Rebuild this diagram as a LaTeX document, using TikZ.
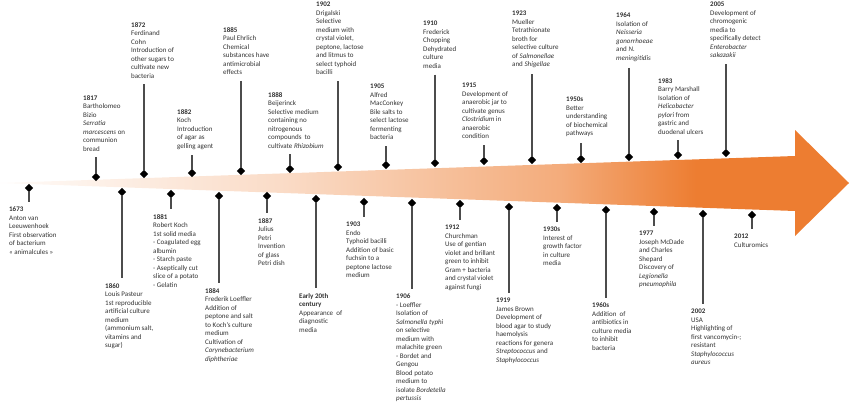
\documentclass[tikz,border=0pt]{standalone}
\usepackage{fontspec}
\setmainfont{Carlito}
\usepackage{tikz}
\usetikzlibrary{shapes.geometric}
\definecolor{arroworange}{RGB}{237,125,49}
\definecolor{evgray}{RGB}{50,50,50}
\pgfdeclarehorizontalshading{arrowfade}{100bp}{color(0bp)=(arroworange!3!white); color(25bp)=(arroworange!3!white); color(41.5bp)=(arroworange!27!white); color(58bp)=(arroworange!64!white); color(66bp)=(arroworange); color(100bp)=(arroworange)}
\tikzset{
  evtxt/.style={anchor=north west, inner sep=0pt, align=left, text=evgray, font=\fontsize{7}{8.5}\selectfont},
  dmd/.style={diamond, fill=black, inner sep=0pt, minimum size=8.5pt},
  stemup/.style={line width=1.2pt, draw=black!70, shorten <=6pt},
  stemdown/.style={line width=1.2pt, draw=black!70, shorten >=5pt}
}

\begin{document}
\begin{tikzpicture}[x=1pt, y=-1pt]
    \useasboundingbox (0,0) rectangle (850,404);
    % the time arrow
    \shade[shading=arrowfade]
        (0,183) -- (795,156) -- (795,130) -- (849,183) -- (795,236) -- (795,211) -- cycle;

    % events above the arrow
    \node[dmd] (d1817) at (96,177) {};
    \node[evtxt] (t1817) at (83,95) {\textbf{1817}\\Bartholomeo\\Bizio\\\textit{Serratia}\\\textit{marcescens} on\\communion\\bread};
    \draw[stemup] (t1817.south -| d1817) -- (d1817);

    \node[dmd] (d1872) at (144,174) {};
    \node[evtxt] (t1872) at (131,22) {\textbf{1872}\\Ferdinand\\Cohn\\Introduction of\\other sugars to\\cultivate new\\bacteria};
    \draw[stemup] (t1872.south -| d1872) -- (d1872);

    \node[dmd] (d1882) at (192,173) {};
    \node[evtxt] (t1882) at (177,109) {\textbf{1882}\\Koch\\Introduction\\of agar as\\gelling agent};
    \draw[stemup] (t1882.south -| d1882) -- (d1882);

    \node[dmd] (d1885) at (241,171) {};
    \node[evtxt] (t1885) at (223,27) {\textbf{1885}\\Paul Ehrlich\\Chemical\\substances have\\antimicrobial\\effects};
    \draw[stemup] (t1885.south -| d1885) -- (d1885);

    \node[dmd] (d1888) at (290,169) {};
    \node[evtxt] (t1888) at (268,92) {\textbf{1888}\\Beijerinck\\Selective medium\\containing no\\nitrogenous\\compounds~ to\\cultivate \textit{Rhizobium}};
    \draw[stemup] (t1888.south -| d1888) -- (d1888);

    \node[dmd] (d1902) at (338,167) {};
    \node[evtxt] (t1902) at (316,2) {\textbf{1902}\\Drigalski\\Selective\\medium with\\crystal violet,\\peptone, lactose\\and litmus to\\select typhoid\\bacilli};
    \draw[stemup] (t1902.south -| d1902) -- (d1902);

    \node[dmd] (d1905) at (386,165) {};
    \node[evtxt] (t1905) at (370,84) {\textbf{1905}\\Alfred\\MacConkey\\Bile salts to\\select lactose\\fermenting\\bacteria};
    \draw[stemup] (t1905.south -| d1905) -- (d1905);

    \node[dmd] (d1910) at (435,163) {};
    \node[evtxt] (t1910) at (423,21) {\textbf{1910}\\Frederick\\Chopping\\Dehydrated\\culture\\media};
    \draw[stemup] (t1910.south -| d1910) -- (d1910);

    \node[dmd] (d1915) at (484,161) {};
    \node[evtxt] (t1915) at (462,83) {\textbf{1915}\\Development of\\anaerobic jar to\\cultivate genus\\\textit{Clostridium} in\\anaerobic\\condition};
    \draw[stemup] (t1915.south -| d1915) -- (d1915);

    \node[dmd] (d1923) at (532,160) {};
    \node[evtxt] (t1923) at (512,11) {\textbf{1923}\\Mueller\\Tetrathionate\\broth for\\selective culture\\of \textit{Salmonellae}\\and \textit{Shigellae}};
    \draw[stemup] (t1923.south -| d1923) -- (d1923);

    \node[dmd] (d1950) at (581,159) {};
    \node[evtxt] (t1950) at (566,97) {\textbf{1950s}\\Better\\understanding\\of biochemical\\pathways};
    \draw[stemup] (t1950.south -| d1950) -- (d1950);

    \node[dmd] (d1964) at (629,157) {};
    \node[evtxt] (t1964) at (616,13) {\textbf{1964}\\Isolation of\\\textit{Neisseria}\\\textit{gonorrhoeae}\\and \textit{N.}\\\textit{meningitidis}};
    \draw[stemup] (t1964.south -| d1964) -- (d1964);

    \node[dmd] (d1983) at (678,155) {};
    \node[evtxt] (t1983) at (658,78) {\textbf{1983}\\Barry Marshall\\Isolation of\\\textit{Helicobacter}\\\textit{pylori} from\\gastric and\\duodenal ulcers};
    \draw[stemup] (t1983.south -| d1983) -- (d1983);

    \node[dmd] (d2005) at (726,153) {};
    \node[evtxt] (t2005) at (710,2) {\textbf{2005}\\Development of\\chromogenic\\media to\\specifically detect\\\textit{Enterobacter}\\\textit{sakazakii}};
    \draw[stemup] (t2005.south -| d2005) -- (d2005);

    % events below the arrow
    \node[dmd] (d1673) at (29,188) {};
    \node[evtxt] (t1673) at (9,207) {\textbf{1673}\\Anton van\\Leeuwenhoek\\First observation\\of bacterium\\« animalcules »};
    \draw[stemdown] (d1673) -- (t1673.north -| d1673);

    \node[dmd] (d1860) at (122,192) {};
    \node[evtxt] (t1860) at (105,283) {\textbf{1860}\\Louis Pasteur\\1st reproducible\\artificial culture\\medium\\(ammonium salt,\\vitamins and\\sugar)};
    \draw[stemdown] (d1860) -- (t1860.north -| d1860);

    \node[dmd] (d1881) at (171,194) {};
    \node[evtxt] (t1881) at (153,214) {\textbf{1881}\\Robert Koch\\1st solid media\\- Coagulated egg\\albumin\\- Starch paste\\- Aseptically cut\\slice of a potato\\- Gelatin};
    \draw[stemdown] (d1881) -- (t1881.north -| d1881);

    \node[dmd] (d1884) at (219,196) {};
    \node[evtxt] (t1884) at (205,288) {\textbf{1884}\\Frederik Loeffler\\Addition of\\peptone and salt\\to Koch’s culture\\medium\\Cultivation of\\\textit{Corynebacterium}\\\textit{diphtheriae}};
    \draw[stemdown] (d1884) -- (t1884.north -| d1884);

    \node[dmd] (d1887) at (267,196) {};
    \node[evtxt] (t1887) at (258,218) {\textbf{1887}\\Julius\\Petri\\Invention\\of glass\\Petri dish};
    \draw[stemdown] (d1887) -- (t1887.north -| d1887);

    \node[dmd] (d1900) at (316,199) {};
    \node[evtxt] (t1900) at (299,293) {\textbf{Early 20th}\\\textbf{century}\\Appearance~ of\\diagnostic\\media};
    \draw[stemdown] (d1900) -- (t1900.north -| d1900);

    \node[dmd] (d1903) at (364,202) {};
    \node[evtxt] (t1903) at (346,222) {\textbf{1903}\\Endo\\Typhoid bacilli\\Addition of basic\\fuchsin to a\\peptone lactose\\medium};
    \draw[stemdown] (d1903) -- (t1903.north -| d1903);

    \node[dmd] (d1906) at (412,203) {};
    \node[evtxt] (t1906) at (396,294) {\textbf{1906}\\- Loeffler\\Isolation of\\\textit{Salmonella typhi}\\on selective\\medium with\\malachite green\\- Bordet and\\Gengou\\Blood potato\\medium to\\isolate \textit{Bordetella}\\\textit{pertussis}};
    \draw[stemdown] (d1906) -- (t1906.north -| d1906);

    \node[dmd] (d1912) at (460,204) {};
    \node[evtxt] (t1912) at (445,225) {\textbf{1912}\\Churchman\\Use of gentian\\violet and brillant\\green to inhibit\\Gram + bacteria\\and crystal violet\\against fungi};
    \draw[stemdown] (d1912) -- (t1912.north -| d1912);

    \node[dmd] (d1919) at (509,207) {};
    \node[evtxt] (t1919) at (496,298) {\textbf{1919}\\James Brown\\Development of\\blood agar to study\\haemolysis\\reactions for genera\\\textit{Streptococcus} and\\\textit{Staphylococcus}};
    \draw[stemdown] (d1919) -- (t1919.north -| d1919);

    \node[dmd] (d1930) at (557,208) {};
    \node[evtxt] (t1930) at (543,227) {\textbf{1930s}\\Interest of\\growth factor\\in culture\\media};
    \draw[stemdown] (d1930) -- (t1930.north -| d1930);

    \node[dmd] (d1960) at (606,210) {};
    \node[evtxt] (t1960) at (592,303) {\textbf{1960s}\\Addition~ of\\antibiotics in\\culture media\\to inhibit\\bacteria};
    \draw[stemdown] (d1960) -- (t1960.north -| d1960);

    \node[dmd] (d1977) at (654,212) {};
    \node[evtxt] (t1977) at (639,231) {\textbf{1977}\\Joseph McDade\\and Charles\\Shepard\\Discovery of\\\textit{Legionella}\\\textit{pneumophila}};
    \draw[stemdown] (d1977) -- (t1977.north -| d1977);

    \node[dmd] (d2002) at (703,214) {};
    \node[evtxt] (t2002) at (691,309) {\textbf{2002}\\USA\\Highlighting of\\first vancomycin-;\\resistant\\\textit{Staphylococcus}\\\textit{aureus}};
    \draw[stemdown] (d2002) -- (t2002.north -| d2002);

    \node[dmd] (d2012) at (752,215) {};
    \node[evtxt] (t2012) at (734,234) {\textbf{2012}\\Culturomics};
    \draw[stemdown] (d2012) -- (t2012.north -| d2012);
\end{tikzpicture}
\end{document}
